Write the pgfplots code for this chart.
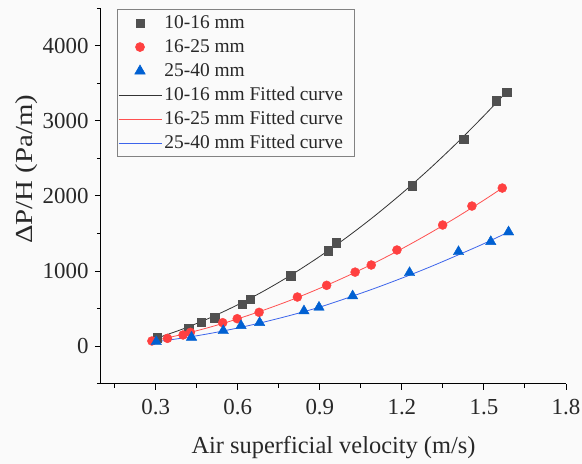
\documentclass[border=0pt]{standalone}
\usepackage{fontspec}
\setmainfont{Liberation Serif}
\usepackage{pgfplots}
\usepackage{pgfplotstable}
\pgfplotsset{compat=1.18}
\definecolor{bgc}{RGB}{250,250,250}
\definecolor{sqc}{RGB}{80,80,80}
\definecolor{cic}{RGB}{255,64,64}
\definecolor{trc}{RGB}{0,96,210}
\definecolor{lbl}{RGB}{40,40,40}
\definecolor{lred}{RGB}{255,80,80}
\definecolor{lblue}{RGB}{60,100,235}

\pgfplotstableread{
x y
0.306 110
0.421 236
0.467 320
0.516 377
0.616 560
0.645 622
0.793 938
0.930 1271
0.960 1378
1.237 2137
1.426 2755
1.545 3271
1.583 3382
}\blackdata
\pgfplotstableread{
x y
0.286 67
0.343 102
0.400 147
0.427 182
0.545 311
0.598 364
0.678 449
0.818 653
0.925 809
1.029 985
1.088 1080
1.182 1280
1.349 1613
1.456 1866
1.567 2106
}\reddata
\pgfplotstableread{
x y
0.302 57
0.431 116
0.547 204
0.612 271
0.680 311
0.842 467
0.897 516
1.020 667
1.228 977
1.407 1257
1.525 1391
1.590 1520
}\bluedata
\pgfplotstableread{
x y
0.30 100
0.40 228
0.50 378
0.60 550
0.70 743
0.80 958
0.90 1195
1.00 1453
1.10 1733
1.20 2035
1.30 2358
1.40 2703
1.50 3070
1.58 3379
}\blackfit
\pgfplotstableread{
x y
0.29 67
0.30 75
0.40 157
0.50 253
0.60 362
0.70 485
0.80 620
0.90 770
1.00 932
1.10 1108
1.20 1297
1.30 1500
1.40 1716
1.50 1945
1.567 2106
}\redfit
\pgfplotstableread{
x y
0.30 56
0.40 107
0.50 168
0.60 240
0.70 323
0.80 416
0.90 519
1.00 640
1.10 768
1.20 905
1.30 1050
1.40 1205
1.50 1365
1.59 1520
}\bluefit

\pgfplotsset{
  markleg/.style={legend image code/.code={\draw[mark repeat=2,mark phase=2,##1] plot coordinates {(0bp,0bp) (21.5bp,0bp) (43bp,0bp)};}},
  lineleg/.style={legend image code/.code={\draw[##1] (0bp,0bp) -- (43bp,0bp);}},
}

\begin{document}
\begin{tikzpicture}
\fill[bgc] (-101bp,-80bp) rectangle (481bp,383.5bp);
\begin{axis}[
  at={(0,0)}, anchor=south west,
  scale only axis, width=465bp, height=375bp,
  xmin=0.1, xmax=1.8, ymin=-500, ymax=4500,
  axis x line*=bottom, axis y line*=left,
  axis line style={line width=1bp, black},
  xtick={0.3,0.6,0.9,1.2,1.5,1.8},
  minor xtick={0.15,0.45,0.75,1.05,1.35,1.65},
  ytick={0,1000,2000,3000,4000},
  minor ytick={-500,500,1500,2500,3500,4500},
  tick align=outside,
  major tick length=6bp, minor tick length=4bp,
  every tick/.style={black, line width=1bp},
  /pgf/number format/assume math mode=true,
  xticklabel style={/pgf/number format/fixed, /pgf/number format/precision=1, /pgf/number format/fixed zerofill, yshift=-6bp},
  yticklabel style={/pgf/number format/1000 sep={}, xshift=-3bp},
  tick label style={font=\fontsize{23}{23}\selectfont, text=lbl},
  xlabel={Air superficial velocity (m/s)},
  ylabel={\scalebox{1.18}[1]{ΔP/H (Pa/m)}},
  label style={font=\fontsize{24.5}{25}\selectfont, text=lbl},
  xlabel style={at={(axis description cs:0.5,-0.172)}, anchor=center},
  ylabel style={at={(axis description cs:-0.159,0.571)}, anchor=center, rotate=0},
  legend cell align=left,
  legend style={at={(axis description cs:0.034,0.998)}, anchor=north west,
    draw={rgb,255:red,130;green,130;blue,130}, line width=0.6bp, fill=none,
    font=\fontsize{19.5}{20}\selectfont, text=lbl,
    inner xsep=1bp, inner ysep=1.5bp,
    nodes={inner sep=2.5bp, text height=14.8bp, text depth=4.2bp}},
]
\addplot[only marks, mark=square*, mark size=4.2bp, color=sqc, markleg] table {\blackdata};
\addlegendentry{10-16 mm}
\addplot[only marks, mark=*, mark size=4.5bp, color=cic, markleg] table {\reddata};
\addlegendentry{16-25 mm}
\addplot[only marks, mark=triangle*, mark size=6bp, color=trc, markleg] table {\bluedata};
\addlegendentry{25-40 mm}
\addplot[no marks, smooth, line width=0.8bp, color=black!80, lineleg] table {\blackfit};
\addlegendentry{10-16 mm Fitted curve\hspace*{8bp}}
\addplot[no marks, smooth, line width=0.8bp, color=lred, lineleg] table {\redfit};
\addlegendentry{16-25 mm Fitted curve\hspace*{8bp}}
\addplot[no marks, smooth, line width=0.8bp, color=lblue, lineleg] table {\bluefit};
\addlegendentry{25-40 mm Fitted curve\hspace*{8bp}}
\end{axis}
\pgfresetboundingbox
\useasboundingbox (-101bp,-80bp) rectangle (481bp,383.5bp);
\end{tikzpicture}
\end{document}
